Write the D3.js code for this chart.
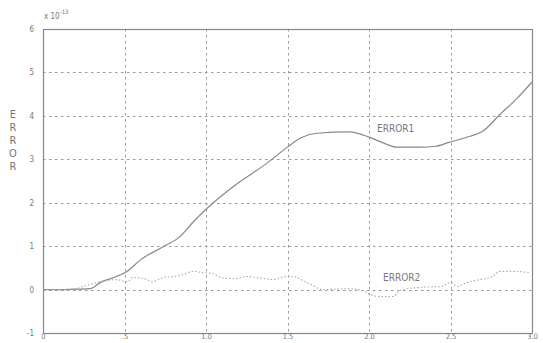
<!DOCTYPE html>
<html>
<head>
<meta charset="utf-8">
<script src="https://cdn.jsdelivr.net/npm/d3@7"></script>
<style>
  html, body { margin: 0; padding: 0; background: #fff; }
  svg { display: block; }
  text { font-family: "DejaVu Sans Condensed", "Liberation Sans Narrow", "Liberation Sans", sans-serif; fill: #777; }
</style>
</head>
<body>
<svg id="chart" width="543" height="343"></svg>
<script>
// time axis ticks and labels
const xTicks = [0, 0.5, 1.0, 1.5, 2.0, 2.5, 3.0];
const xTickLabels = ["0", ".5", "1.0", "1.5", "2.0", "2.5", "3.0"];
const yTicks = [-1, 0, 1, 2, 3, 4, 5, 6];
const yTickLabels = ["-1", "0", "1", "2", "3", "4", "5", "6"];

// ERROR1 (solid), values in units of 1e-13
const error1T = [0, 0.1, 0.2, 0.29, 0.35, 0.45, 0.52, 0.6, 0.74, 0.84, 0.92, 1.0, 1.17, 1.37, 1.5, 1.58, 1.68, 1.88, 2.0, 2.08, 2.17, 2.31, 2.41, 2.49, 2.62, 2.7, 2.8, 2.91, 3.0];
const error1V = [0, 0, 0.01, 0.02, 0.16, 0.30, 0.43, 0.69, 0.99, 1.22, 1.55, 1.85, 2.38, 2.9, 3.28, 3.49, 3.60, 3.63, 3.51, 3.39, 3.28, 3.28, 3.30, 3.39, 3.53, 3.65, 4.02, 4.41, 4.78];

// ERROR2 (dotted), values in units of 1e-13
const error2T = [0, 0.1, 0.2, 0.245, 0.29, 0.35, 0.45, 0.52, 0.55, 0.64, 0.67, 0.74, 0.80, 0.86, 0.92, 0.98, 1.04, 1.09, 1.17, 1.25, 1.33, 1.41, 1.50, 1.53, 1.62, 1.72, 1.87, 1.96, 2.01, 2.07, 2.15, 2.19, 2.31, 2.44, 2.50, 2.54, 2.60, 2.68, 2.76, 2.80, 2.88, 2.99];
const error2V = [0, 0, 0.02, 0.07, 0.12, 0.18, 0.23, 0.18, 0.28, 0.23, 0.18, 0.28, 0.30, 0.35, 0.42, 0.39, 0.37, 0.28, 0.25, 0.30, 0.27, 0.23, 0.30, 0.30, 0.16, 0.0, 0.02, -0.02, -0.12, -0.16, -0.16, -0.02, 0.05, 0.07, 0.16, 0.07, 0.16, 0.23, 0.30, 0.42, 0.42, 0.39];

const svg = d3.select("#chart");
const plotLeft = 43, plotRight = 532, plotTop = 29, plotBottom = 333;

const x = d3.scaleLinear().domain([0, 3]).range([plotLeft, plotRight]);
const y = d3.scaleLinear().domain([-1, 6]).range([plotBottom, plotTop]);

// dashed grid
const grid = svg.append("g").attr("stroke", "#999").attr("stroke-width", 1).attr("stroke-dasharray", "2.5,3.5");
grid.selectAll("line.v").data(xTicks.slice(1, -1)).join("line")
  .attr("x1", d => Math.round(x(d)) + 0.5).attr("x2", d => Math.round(x(d)) + 0.5)
  .attr("y1", plotTop).attr("y2", plotBottom);
grid.selectAll("line.h").data(yTicks.slice(1, -1)).join("line")
  .attr("x1", plotLeft).attr("x2", plotRight)
  .attr("y1", d => Math.round(y(d)) + 0.5).attr("y2", d => Math.round(y(d)) + 0.5);

// frame
svg.append("rect")
  .attr("x", plotLeft + 0.5).attr("y", plotTop + 0.5)
  .attr("width", plotRight - plotLeft).attr("height", plotBottom - plotTop)
  .attr("fill", "none").attr("stroke", "#888").attr("stroke-width", 1.2);

// axes (labels only)
const xAxis = d3.axisBottom(x).tickValues(xTicks)
  .tickFormat((d, i) => xTickLabels[i]).tickSize(0).tickPadding(1);
const gx = svg.append("g").attr("transform", `translate(0,${plotBottom})`).call(xAxis);
gx.select(".domain").remove();
gx.selectAll("text").attr("font-size", 7.5).attr("fill", "#777");

const yAxis = d3.axisLeft(y).tickValues(yTicks)
  .tickFormat((d, i) => yTickLabels[i]).tickSize(0).tickPadding(9);
const gy = svg.append("g").attr("transform", `translate(${plotLeft},0)`).call(yAxis);
gy.select(".domain").remove();
gy.selectAll("text").attr("font-size", 8).attr("fill", "#777");

// exponent label
const expo = svg.append("text").attr("x", 44).attr("y", 19).attr("font-size", 8);
expo.append("tspan").text("x 10");
expo.append("tspan").attr("dy", -5).attr("font-size", 6).text("-13");

// vertical stacked y label
const yl = svg.append("text").attr("font-size", 11).attr("fill", "#999").attr("text-anchor", "middle");
"ERROR".split("").forEach((c, i) => {
  yl.append("tspan").attr("x", 13).attr("y", 118 + i * 13).text(c);
});

// series
const line = d3.line().x(d => x(d[0])).y(d => y(d[1])).curve(d3.curveMonotoneX);

svg.append("path")
  .datum(d3.zip(error1T, error1V))
  .attr("d", line)
  .attr("fill", "none").attr("stroke", "#888").attr("stroke-width", 1.2);

svg.append("path")
  .datum(d3.zip(error2T, error2V))
  .attr("d", line)
  .attr("fill", "none").attr("stroke", "#aaa").attr("stroke-width", 1.1)
  .attr("stroke-dasharray", "1.5,2");

// series labels
svg.append("text").attr("x", 377).attr("y", 132).attr("font-size", 10).attr("fill", "#777").text("ERROR1");
svg.append("text").attr("x", 383).attr("y", 281).attr("font-size", 10).attr("fill", "#777").text("ERROR2");
</script>
</body>
</html>
